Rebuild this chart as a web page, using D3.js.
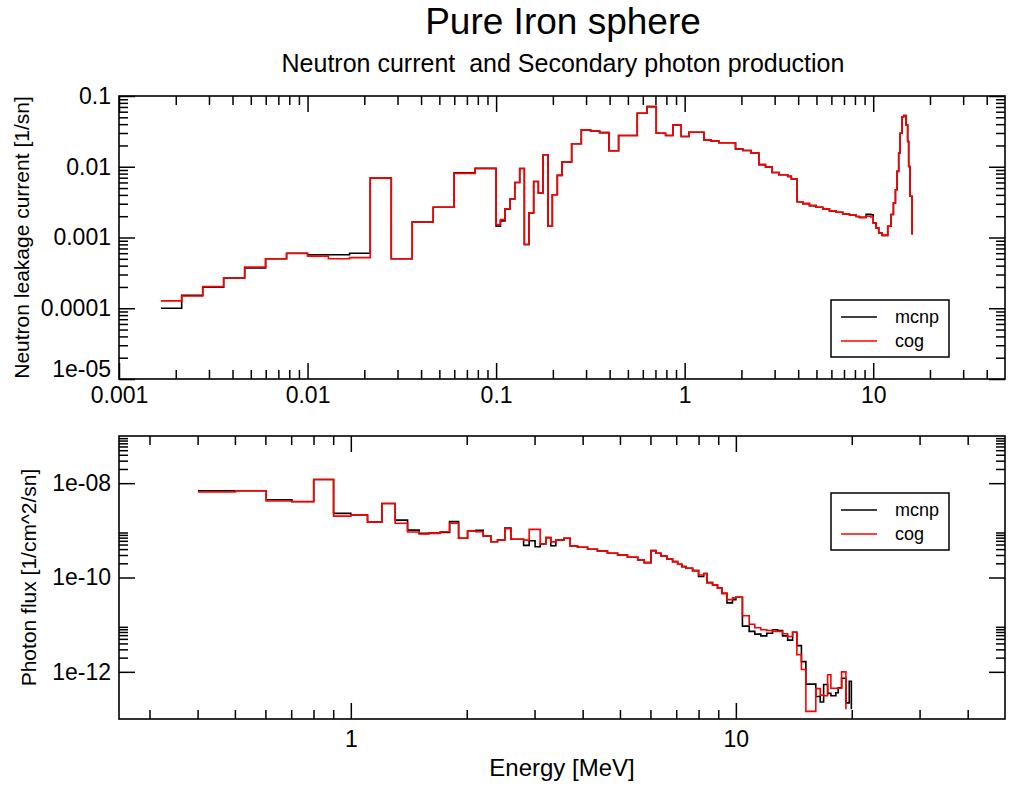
<!DOCTYPE html>
<html><head><meta charset="utf-8">
<script src="https://cdn.jsdelivr.net/npm/d3@7"></script>
<style>
body{margin:0;background:#fff}
svg{display:block}
text{font-family:"Liberation Sans",Arial,Helvetica,sans-serif;fill:#000;white-space:pre}
</style>
</head><body>
<svg id="c" width="1012" height="786"></svg>
<script>
// ---------- DATA ----------
const seriesNames = ["mcnp", "cog"];
const seriesColors = ["#000000", "#ff0000"];

// Top panel: neutron leakage current (step histogram, left edge of bin + value)
const topEnergy = [0.00167,0.00215,0.00278,0.00359,0.00464,0.00599,0.00774,0.0100,0.0129,0.0167,
  0.0215,0.0278,0.0359,0.0464,0.0599,0.0774,0.100,0.1054,0.1115,0.1185,
  0.1256,0.1334,0.1412,0.1495,0.1582,0.1675,0.1774,0.1885,0.1987,0.2112,
  0.2236,0.2516,0.2831,0.3171,0.354,0.3967,0.4463,0.5003,0.5606,0.6308,
  0.7069,0.792,0.8663,0.959,1.053,1.265,1.383,1.519,1.861,2.035,
  2.253,2.475,2.684,2.911,3.158,3.52,3.68,3.95,4.23,4.59,
  4.98,5.40,5.86,6.36,6.89,7.48,8.12,8.45,9.17,9.70,
  10.0,10.36,10.70,11.15,11.94,12.44,12.80,13.12,13.39,13.65,
  13.89,14.23,14.51,14.94,15.23,15.42,15.69,16.08];
const topCog = [1.27e-4,1.49e-4,2.02e-4,2.67e-4,3.82e-4,5.0e-4,5.95e-4,5.45e-4,5.0e-4,5.2e-4,
  6.9e-3,5.0e-4,1.66e-3,2.67e-3,8.05e-3,9.46e-3,1.52e-3,1.79e-3,2.54e-3,3.5e-3,
  6.0e-3,9.46e-3,7.97e-4,2.23e-3,6.2e-3,4.26e-3,1.48e-2,1.44e-3,4.03e-3,7.55e-3,
  1.17e-2,2.11e-2,3.32e-2,3.2e-2,3.04e-2,1.68e-2,2.76e-2,2.76e-2,5.7e-2,7.07e-2,
  2.98e-2,2.76e-2,3.9e-2,2.67e-2,3.08e-2,2.4e-2,2.3e-2,2.18e-2,1.78e-2,1.7e-2,
  1.56e-2,1.07e-2,9.9e-3,8.3e-3,7.7e-3,7.3e-3,6.7e-3,3.2e-3,3.01e-3,2.82e-3,
  2.67e-3,2.54e-3,2.38e-3,2.27e-3,2.16e-3,2.09e-3,1.98e-3,1.91e-3,2.0e-3,1.95e-3,
  1.6e-3,1.37e-3,1.16e-3,1.07e-3,1.44e-3,2.11e-3,3.08e-3,4.74e-3,8.6e-3,1.56e-2,
  2.98e-2,5.1e-2,5.3e-2,3.9e-2,2.27e-2,1.01e-2,3.82e-3,1.1e-3];
const topMcnp = [1.0e-4,1.52e-4,1.98e-4,2.67e-4,3.7e-4,5.0e-4,6.0e-4,5.7e-4,5.7e-4,6.0e-4,
  6.9e-3,5.0e-4,1.66e-3,2.67e-3,8.2e-3,9.5e-3,1.45e-3,1.72e-3,2.54e-3,3.5e-3,
  6.0e-3,9.46e-3,7.97e-4,2.23e-3,6.2e-3,4.26e-3,1.48e-2,1.44e-3,4.03e-3,7.55e-3,
  1.17e-2,2.11e-2,3.32e-2,3.2e-2,3.04e-2,1.68e-2,2.76e-2,2.76e-2,5.7e-2,7.07e-2,
  2.98e-2,2.76e-2,3.9e-2,2.67e-2,3.08e-2,2.4e-2,2.3e-2,2.18e-2,1.78e-2,1.7e-2,
  1.56e-2,1.07e-2,9.9e-3,8.3e-3,7.7e-3,7.3e-3,6.7e-3,3.2e-3,3.01e-3,2.82e-3,
  2.67e-3,2.54e-3,2.38e-3,2.27e-3,2.16e-3,2.09e-3,1.98e-3,1.93e-3,2.12e-3,2.1e-3,
  1.6e-3,1.37e-3,1.16e-3,1.07e-3,1.44e-3,2.11e-3,3.08e-3,4.74e-3,8.6e-3,1.56e-2,
  2.98e-2,5.1e-2,5.3e-2,3.9e-2,2.27e-2,1.01e-2,3.82e-3,1.1e-3];

// Bottom panel: photon flux
const botEnergy = [0.401,0.502,0.603,0.703,0.801,0.902,1.0,1.105,1.204,1.304,
  1.404,1.505,1.597,1.706,1.805,1.905,2.01,2.112,2.207,2.31,
  2.404,2.512,2.604,2.81,2.905,3.01,3.103,3.21,3.307,3.408,
  3.58,3.713,3.88,4.12,4.37,4.64,4.93,5.23,5.56,5.78,
  6.02,6.20,6.39,6.62,6.85,7.06,7.24,7.42,7.72,8.0,
  8.25,8.41,8.70,8.96,9.20,9.48,9.80,10.0,10.4,10.83,
  11.2,11.61,12.03,12.45,12.83,13.22,13.63,14.04,14.40,14.8,
  15.2,16.13,16.56,16.9,17.31,17.65,18.18,18.44,18.82,19.31,
  19.7,19.95];
const botCog = [6.55e-9,6.9e-9,4.2e-9,4.03e-9,1.2e-8,2.0e-9,2.1e-9,1.5e-9,3.7e-9,1.41e-9,
  9.2e-10,8.35e-10,8.6e-10,9.33e-10,1.41e-9,6.78e-10,9.6e-10,9.3e-10,7.58e-10,5.74e-10,
  6.24e-10,1.08e-9,6.45e-10,6.2e-10,1.05e-9,1.05e-9,5.13e-10,7.0e-10,5.7e-10,6.24e-10,
  6.78e-10,4.66e-10,4.37e-10,3.97e-10,3.65e-10,3.27e-10,3.0e-10,2.69e-10,2.36e-10,2.07e-10,
  3.71e-10,3.27e-10,2.86e-10,2.47e-10,2.17e-10,1.91e-10,1.7e-10,1.57e-10,1.4e-10,1.13e-10,
  1.22e-10,7.8e-11,6.97e-11,5.94e-11,4.6e-11,3.4e-11,3.7e-11,3.8e-11,1.55e-11,1.02e-11,
  8.6e-12,7.8e-12,7.5e-12,7.2e-12,7.2e-12,6.4e-12,5.6e-12,6.9e-12,2.3e-12,1.12e-12,
  1.45e-13,4.4e-13,3.2e-13,3.1e-13,8.7e-13,4.5e-13,4.5e-13,4.5e-13,1.0e-12,1.6e-13,
  null,null];
const botMcnp = [6.9e-9,6.9e-9,4.45e-9,4.1e-9,1.2e-8,2.29e-9,2.1e-9,1.5e-9,3.7e-9,1.65e-9,
  1.01e-9,8.6e-10,8.8e-10,9.0e-10,1.53e-9,6.78e-10,9.6e-10,1.0e-9,7.58e-10,5.74e-10,
  6.24e-10,1.12e-9,6.45e-10,4.8e-10,6.0e-10,4.5e-10,5.13e-10,7.0e-10,4.72e-10,6.24e-10,
  6.78e-10,4.66e-10,4.37e-10,3.97e-10,3.65e-10,3.27e-10,3.0e-10,2.69e-10,2.36e-10,2.07e-10,
  3.71e-10,3.27e-10,2.86e-10,2.47e-10,2.17e-10,1.91e-10,1.7e-10,1.57e-10,1.4e-10,1.05e-10,
  1.22e-10,7.8e-11,6.97e-11,5.94e-11,4.6e-11,2.9e-11,3.4e-11,3.8e-11,9.3e-12,7.2e-12,
  6.3e-12,5.8e-12,6.6e-12,7.8e-12,7.5e-12,5.8e-12,4.7e-12,6.9e-12,3.6e-12,1.65e-12,
  5.5e-13,3.0e-13,2.3e-13,5.4e-13,3.5e-13,3.1e-13,3.6e-13,4.6e-13,7.3e-13,2.2e-13,
  6.3e-13,1.6e-13];

// Tick values and labels
const topXTicks = [0.001, 0.01, 0.1, 1, 10];
const topXTickLabels = ["0.001", "0.01", "0.1", "1", "10"];
const topYTicks = [1e-5, 1e-4, 1e-3, 1e-2, 1e-1];
const topYTickLabels = ["1e-05", "0.0001", "0.001", "0.01", "0.1"];
const botXTicks = [1, 10];
const botXTickLabels = ["1", "10"];
const botYTicks = [1e-12, 1e-10, 1e-8];
const botYTickLabels = ["1e-12", "1e-10", "1e-08"];

const titleText = "Pure Iron sphere";
const subtitleText = "Neutron current  and Secondary photon production";
const topYLabel = "Neutron leakage current [1/sn]";
const botYLabel = "Photon flux [1/cm^2/sn]";
const xLabel = "Energy [MeV]";

// ---------- DRAWING ----------
const svg = d3.select("#c");
svg.append("rect").attr("width",1012).attr("height",786).attr("fill","#fff");

function minorsFor(bases, domain){
  const out=[];
  bases.forEach(b=>{ for(let k=2;k<=9;k++){ const v=k*b; if(v>domain[0]*1.0001 && v<domain[1]*0.9999) out.push(v);} });
  return out;
}
function decadeBases(domain){
  const out=[]; let e=Math.floor(Math.log10(domain[0])-1e-9);
  for(;Math.pow(10,e)<domain[1];e++) out.push(Math.pow(10,e));
  return out;
}

function panel(cfg){
  const {L,R,T,B} = cfg;
  const x = d3.scaleLog().domain(cfg.xDomain).range([L,R]);
  const y = d3.scaleLog().domain(cfg.yDomain).range([B,T]);
  const g = svg.append("g");
  const MAJ=16, MIN=9;

  const xMin = minorsFor(decadeBases(cfg.xDomain), cfg.xDomain);
  const yMin = minorsFor(cfg.yMinorBases || decadeBases(cfg.yDomain), cfg.yDomain);

  function styleAxis(sel){
    sel.select(".domain").remove();
    sel.selectAll(".tick line").attr("stroke","#000").attr("stroke-width",1.5);
  }
  // bottom x
  g.append("g").attr("transform",`translate(0,${B})`)
    .call(d3.axisBottom(x).tickValues(xMin).tickSize(-MIN).tickFormat(""))
    .call(styleAxis);
  g.append("g").attr("transform",`translate(0,${B})`)
    .call(d3.axisBottom(x).tickValues(cfg.xTicks).tickSize(-MAJ).tickPadding(cfg.xPad)
      .tickFormat((d,i)=>cfg.xTickLabels[i]))
    .call(styleAxis)
    .call(s=>s.selectAll("text").attr("font-size",23).attr("font-family",'"Liberation Sans",Arial,sans-serif'));
  // top x
  g.append("g").attr("transform",`translate(0,${T})`)
    .call(d3.axisTop(x).tickValues(xMin).tickSize(-MIN).tickFormat(""))
    .call(styleAxis);
  g.append("g").attr("transform",`translate(0,${T})`)
    .call(d3.axisTop(x).tickValues(cfg.xTicks).tickSize(-MAJ).tickFormat(""))
    .call(styleAxis);
  // left y
  g.append("g").attr("transform",`translate(${L},0)`)
    .call(d3.axisLeft(y).tickValues(yMin).tickSize(-MIN).tickFormat(""))
    .call(styleAxis);
  const ly = g.append("g").attr("transform",`translate(${L},0)`)
    .call(d3.axisLeft(y).tickValues(cfg.yTicks).tickSize(-MAJ).tickPadding(8)
      .tickFormat((d,i)=>cfg.yTickLabels[i]))
    .call(styleAxis)
    .call(s=>s.selectAll("text").attr("font-size",23).attr("font-family",'"Liberation Sans",Arial,sans-serif'));
  if (cfg.lowYLabelDy) ly.selectAll("text").filter((d,i)=>i===0).attr("dy", cfg.lowYLabelDy);
  // right y
  g.append("g").attr("transform",`translate(${R},0)`)
    .call(d3.axisRight(y).tickValues(yMin).tickSize(-MIN).tickFormat(""))
    .call(styleAxis);
  g.append("g").attr("transform",`translate(${R},0)`)
    .call(d3.axisRight(y).tickValues(cfg.yTicks).tickSize(-MAJ).tickFormat(""))
    .call(styleAxis);

  // series
  const line = d3.line().defined(d=>d.v!=null).x(d=>x(d.e)).y(d=>y(d.v)).curve(d3.curveStepAfter);
  cfg.series.forEach((vals,si)=>{
    const pts = cfg.energy.map((e,i)=>({e, v: vals[i]}));
    g.append("path").datum(pts).attr("d",line)
      .attr("fill","none").attr("stroke",seriesColors[si]).attr("stroke-width",1.6)
      .attr("stroke-linejoin","miter");
  });

  // frame
  g.append("rect").attr("x",L).attr("y",T).attr("width",R-L).attr("height",B-T)
    .attr("fill","none").attr("stroke","#000").attr("stroke-width",1.6);

  // y label
  g.append("text").attr("transform",`translate(${cfg.yLabelX},${(T+B)/2}) rotate(-90)`)
    .attr("text-anchor","middle").attr("font-size",21).text(cfg.yLabel);

  // legend
  const lg = g.append("g").attr("transform",`translate(${cfg.legX},${cfg.legY})`);
  lg.append("rect").attr("x",0).attr("y",0).attr("width",118).attr("height",57)
    .attr("fill","#fff").attr("stroke","#000").attr("stroke-width",1.5);
  seriesNames.forEach((n,i)=>{
    const yy = 17 + i*24;
    lg.append("line").attr("x1",10).attr("x2",46).attr("y1",yy).attr("y2",yy)
      .attr("stroke",seriesColors[i]).attr("stroke-width",1.6);
    lg.append("text").attr("x",64).attr("y",yy).attr("dy","0.32em").attr("font-size",18).text(n);
  });
  return {x,y};
}

panel({L:119,R:1005,T:96,B:379,
  xDomain:[0.001,50], yDomain:[1e-5,0.1],
  xTicks:topXTicks, xTickLabels:topXTickLabels, xPad:8,
  yTicks:topYTicks, yTickLabels:topYTickLabels, lowYLabelDy:"-0.1em",
  energy:topEnergy, series:[topMcnp, topCog],
  yLabel:topYLabel, yLabelX:29, legX:831, legY:300});

panel({L:119,R:1005,T:436,B:719,
  xDomain:[0.25,50], yDomain:[1e-13,1e-7],
  yMinorBases:[1e-12,1e-10,1e-8],
  xTicks:botXTicks, xTickLabels:botXTickLabels, xPad:12,
  yTicks:botYTicks, yTickLabels:botYTickLabels,
  energy:botEnergy, series:[botMcnp, botCog],
  yLabel:botYLabel, yLabelX:36, legX:831, legY:493});

svg.append("text").attr("x",563).attr("y",34).attr("text-anchor","middle").attr("font-size",37).text(titleText);
svg.append("text").attr("x",563).attr("y",72).attr("text-anchor","middle").attr("font-size",25)
  .attr("xml:space","preserve").text(subtitleText);
svg.append("text").attr("x",562).attr("y",776).attr("text-anchor","middle").attr("font-size",24).text(xLabel);
</script>
</body></html>
